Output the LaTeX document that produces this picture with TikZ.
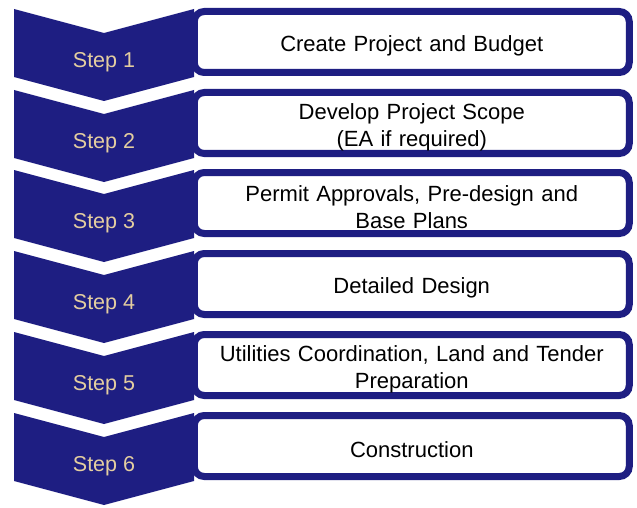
\documentclass[tikz,border=0pt]{standalone}
\usepackage{fontspec}
\setmainfont{Liberation Sans}
\usepackage{xcolor}

\definecolor{navy}{RGB}{30,30,130}
\definecolor{tan}{RGB}{228,206,160}

\begin{document}
\begin{tikzpicture}[x=1pt, y=-1pt,
    chevron/.style={fill=navy, draw=none},
    steplabel/.style={text=tan, font=\fontsize{21.5}{25}\selectfont},
    taskbox/.style={draw=navy, line width=7pt, fill=white, rounded corners=10pt,
        minimum width=435pt, minimum height=61pt, inner sep=0pt,
        text width=425pt, align=center, font=\fontsize{22}{27}\selectfont,
        execute at begin node={\rule{0pt}{24pt}}}
]
\useasboundingbox (0,0) rectangle (637,508);

\node[taskbox] (task1) at (411.75,42) {Create Project and Budget};
\node[taskbox] (task2) at (411.75,123) {Develop Project Scope\\(EA if required)};
\node[taskbox] (task3) at (411.75,203) {Permit Approvals, Pre-design and\\Base Plans};
\node[taskbox] (task4) at (411.75,284) {Detailed Design};
\node[taskbox] (task5) at (411.75,365) {Utilities Coordination, Land and Tender\\Preparation};
\node[taskbox] (task6) at (411.75,446) {Construction};

\fill[chevron] (14,9) -- (104,33) -- (194,9) -- (194,77) -- (104,101) -- (14,77) -- cycle;
\fill[chevron] (14,90) -- (104,114) -- (194,90) -- (194,158) -- (104,182) -- (14,158) -- cycle;
\fill[chevron] (14,170) -- (104,194) -- (194,170) -- (194,238) -- (104,262) -- (14,238) -- cycle;
\fill[chevron] (14,251) -- (104,275) -- (194,251) -- (194,319) -- (104,343) -- (14,319) -- cycle;
\fill[chevron] (14,332) -- (104,356) -- (194,332) -- (194,400) -- (104,424) -- (14,400) -- cycle;
\fill[chevron] (14,413) -- (104,437) -- (194,413) -- (194,481) -- (104,505) -- (14,481) -- cycle;

\node[steplabel] (step1) at (104,62) {Step 1};
\node[steplabel] (step2) at (104,143) {Step 2};
\node[steplabel] (step3) at (104,223) {Step 3};
\node[steplabel] (step4) at (104,304) {Step 4};
\node[steplabel] (step5) at (104,385) {Step 5};
\node[steplabel] (step6) at (104,466) {Step 6};
\end{tikzpicture}
\end{document}
